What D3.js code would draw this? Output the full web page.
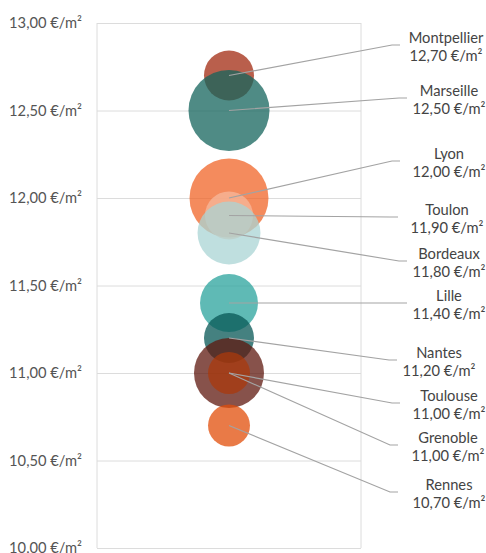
<!DOCTYPE html>
<html><head><meta charset="utf-8">
<script src="https://cdn.jsdelivr.net/npm/d3@7"></script>
<style>
html,body{margin:0;padding:0;background:#fff;}
svg{display:block;font-family:Lato,"Open Sans",sans-serif;}
</style></head>
<body><svg id="c" width="486" height="553"></svg>
<script>
// ---- data ----
const cities = ["Montpellier","Marseille","Lyon","Toulon","Bordeaux","Lille","Nantes","Toulouse","Grenoble","Rennes"];
const prices = [12.70, 12.50, 12.00, 11.90, 11.80, 11.40, 11.20, 11.00, 11.00, 10.70];
const sizes  = [62.5, 164, 156, 57.6, 99, 84, 62.5, 122.5, 44, 44];
const yTicks = [10, 10.5, 11, 11.5, 12, 12.5, 13];

// ---- layout / style (not data) ----
const colors = ["#a22a10","#14645c","#f06427","#f7b89c","#aad4d4","#2aa39c","#075756","#5f180f","#aa3a0c","#e24e0a"];
const labelY = [45, 98, 161, 217, 261, 303, 360, 403, 445, 492];
const labelX = [446, 449, 449, 447, 449, 449, 439, 449, 448, 449];
const lineEndX = [400, 407, 400, 398, 407, 407, 397, 400, 398, 398];

const fmt = v => d3.format(".2f")(v).replace(".", ",") + " €/m²";

const svg = d3.select("#c");
const pL = 97, pR = 361, pT = 23, pB = 548;
const y = d3.scaleLinear().domain([10, 13]).range([pB, pT]);
const x = d3.scalePoint().domain(["all"]).range([pL, pR]).padding(0.5);
const r = d3.scaleSqrt().domain([0, d3.max(sizes)]).range([0, 40.5]);

// grid
const yAxis = d3.axisLeft(y).tickValues(yTicks).tickSize(-(pR - pL)).tickFormat(fmt).tickPadding(15);
const g = svg.append("g").attr("transform", `translate(${pL},0)`).call(yAxis);
g.select(".domain").remove();
g.selectAll(".tick line").attr("stroke", "#dcdcdc").attr("stroke-width", 1);
g.selectAll(".tick text").attr("fill", "#555").style("font-size", "14.7px").style("font-family", "Lato");
// plot borders
svg.append("line").attr("x1", pL).attr("x2", pL).attr("y1", pT).attr("y2", pB).attr("stroke", "#dcdcdc");
svg.append("line").attr("x1", pR).attr("x2", pR).attr("y1", pT).attr("y2", pB).attr("stroke", "#dcdcdc");

const data = cities.map((c, i) => ({c, p: prices[i], s: sizes[i], i}));
const cx = x("all");

svg.append("g").selectAll("circle").data(data).join("circle")
  .attr("cx", cx).attr("cy", d => y(d.p)).attr("r", d => r(d.s))
  .attr("fill", d => colors[d.i]).attr("fill-opacity", 0.75);

svg.append("g").selectAll("path").data(data).join("path")
  .attr("d", d => `M${cx},${y(d.p)}L${lineEndX[d.i] - 8},${labelY[d.i]}L${lineEndX[d.i]},${labelY[d.i]}`)
  .attr("fill", "none").attr("stroke", "#a3a3a3").attr("stroke-width", 1.2);

const lab = svg.append("g").selectAll("text").data(data).join("text")
  .attr("text-anchor", "middle").attr("fill", "#444").style("font-size", "14.7px");
lab.append("tspan").attr("x", d => labelX[d.i]).attr("y", d => labelY[d.i] - 2.2).text(d => d.c);
lab.append("tspan").attr("x", d => labelX[d.i]).attr("y", d => labelY[d.i] + 15.8).text(d => fmt(d.p));
</script></body></html>
